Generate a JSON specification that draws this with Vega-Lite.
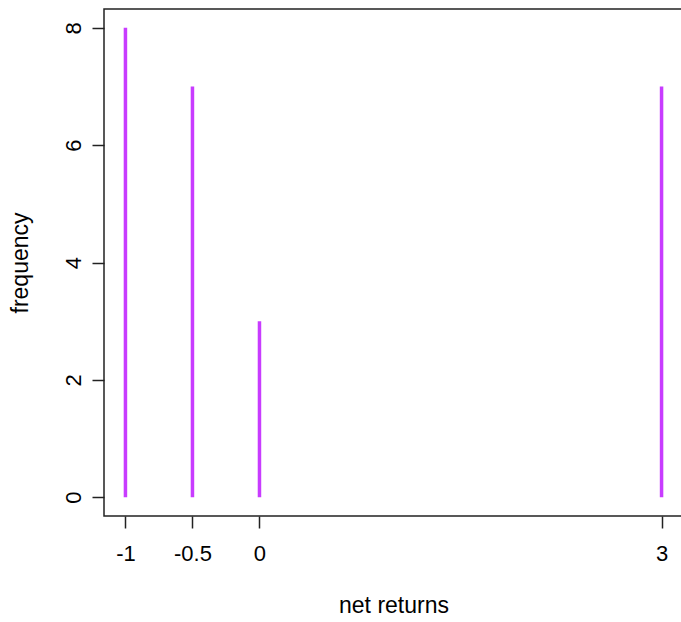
{
  "$schema": "https://vega.github.io/schema/vega-lite/v6.json",
  "autosize": {"type": "none"},
  "width": 579,
  "height": 507,
  "padding": {"left": 104, "top": 9, "right": 0, "bottom": 106},
  "background": "white",
  "config": {
    "view": {"stroke": "#222", "strokeWidth": 1.5},
    "font": "Liberation Sans",
    "axis": {
      "domain": false,
      "grid": false,
      "tickColor": "#222",
      "tickWidth": 1.5,
      "tickSize": 12,
      "labelColor": "black",
      "titleColor": "black",
      "labelFontSize": 22,
      "titleFontSize": 23,
      "titleFontWeight": "normal",
      "labelFont": "Liberation Sans",
      "titleFont": "Liberation Sans"
    }
  },
  "data": {
    "values": [
      {"net_return": -1, "frequency": 8},
      {"net_return": -0.5, "frequency": 7},
      {"net_return": 0, "frequency": 3},
      {"net_return": 3, "frequency": 7}
    ]
  },
  "mark": {"type": "rule", "color": "#c83cff", "strokeWidth": 3.5},
  "encoding": {
    "x": {
      "field": "net_return",
      "type": "quantitative",
      "scale": {"domain": [-1.16, 3.16], "nice": false, "zero": false},
      "axis": {
        "title": "net returns",
        "values": [-1, -0.5, 0, 3],
        "labelExpr": "'' + datum.value",
        "labelPadding": 15,
        "labelFlush": false,
        "titlePadding": 30
      }
    },
    "y": {
      "field": "frequency",
      "type": "quantitative",
      "scale": {"domain": [-0.32, 8.32], "nice": false, "zero": false},
      "axis": {
        "title": "frequency",
        "values": [0, 2, 4, 6, 8],
        "labelExpr": "'' + datum.value",
        "labelAngle": -90,
        "labelAlign": "center",
        "labelBaseline": "alphabetic",
        "labelPadding": 12,
        "labelFlush": false,
        "titlePadding": 30
      }
    },
    "y2": {"datum": 0}
  }
}
